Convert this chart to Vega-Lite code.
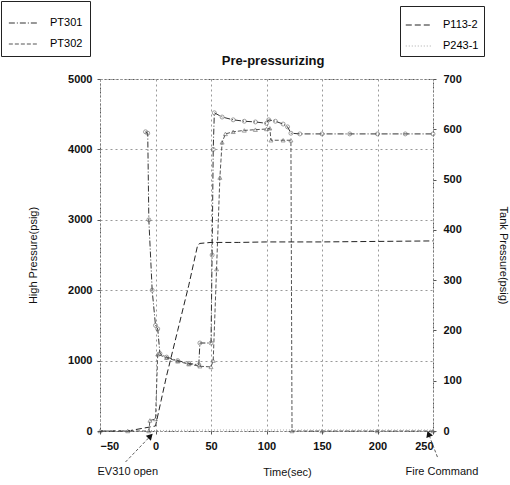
{
  "$schema": "https://vega.github.io/schema/vega-lite/v6.json",
  "width": 333,
  "height": 352,
  "autosize": "none",
  "padding": {"left": 100, "top": 79, "right": 77, "bottom": 54},
  "background": "white",
  "config": {
    "font": "Liberation Sans",
    "view": {"stroke": "#555", "strokeDash": [2, 2], "strokeWidth": 1},
    "axis": {
      "labelFont": "Liberation Sans", "labelFontSize": 11, "labelFontWeight": "bold", "labelColor": "#111",
      "titleFont": "Liberation Sans", "titleFontSize": 11, "titleFontWeight": "normal", "titleColor": "#111",
      "grid": true, "gridColor": "#999", "gridDash": [2, 3], "gridWidth": 1,
      "domain": false, "tickColor": "#555", "tickSize": 3, "format": "d"
    }
  },
  "datasets": {
    "high": [
      {"t": -9, "v": 4250, "s": "PT301"}, {"t": -7, "v": 4230, "s": "PT301"}, {"t": -6, "v": 3000, "s": "PT301"},
      {"t": -3, "v": 2000, "s": "PT301"}, {"t": 0, "v": 1500, "s": "PT301"}, {"t": 2, "v": 1450, "s": "PT301"},
      {"t": 4, "v": 1100, "s": "PT301"}, {"t": 10, "v": 1050, "s": "PT301"}, {"t": 20, "v": 1000, "s": "PT301"},
      {"t": 30, "v": 960, "s": "PT301"}, {"t": 39, "v": 940, "s": "PT301"}, {"t": 40, "v": 1250, "s": "PT301"},
      {"t": 50, "v": 1250, "s": "PT301"}, {"t": 51, "v": 2500, "s": "PT301"}, {"t": 52, "v": 4000, "s": "PT301"},
      {"t": 53, "v": 4520, "s": "PT301"}, {"t": 60, "v": 4460, "s": "PT301"}, {"t": 70, "v": 4420, "s": "PT301"},
      {"t": 80, "v": 4400, "s": "PT301"}, {"t": 90, "v": 4390, "s": "PT301"}, {"t": 100, "v": 4370, "s": "PT301"},
      {"t": 102, "v": 4420, "s": "PT301"}, {"t": 108, "v": 4400, "s": "PT301"}, {"t": 115, "v": 4360, "s": "PT301"},
      {"t": 119, "v": 4320, "s": "PT301"}, {"t": 122, "v": 4230, "s": "PT301"}, {"t": 130, "v": 4220, "s": "PT301"},
      {"t": 150, "v": 4220, "s": "PT301"}, {"t": 175, "v": 4220, "s": "PT301"}, {"t": 200, "v": 4220, "s": "PT301"},
      {"t": 225, "v": 4220, "s": "PT301"}, {"t": 250, "v": 4220, "s": "PT301"},
      {"t": -50, "v": 0, "s": "PT302"}, {"t": -25, "v": 0, "s": "PT302"}, {"t": -6, "v": 0, "s": "PT302"},
      {"t": -5, "v": 150, "s": "PT302"}, {"t": 0, "v": 170, "s": "PT302"}, {"t": 2, "v": 1090, "s": "PT302"},
      {"t": 10, "v": 1040, "s": "PT302"}, {"t": 20, "v": 990, "s": "PT302"}, {"t": 30, "v": 950, "s": "PT302"},
      {"t": 40, "v": 920, "s": "PT302"}, {"t": 50, "v": 910, "s": "PT302"}, {"t": 52, "v": 1000, "s": "PT302"},
      {"t": 55, "v": 2300, "s": "PT302"}, {"t": 58, "v": 3600, "s": "PT302"}, {"t": 60, "v": 4100, "s": "PT302"},
      {"t": 63, "v": 4220, "s": "PT302"}, {"t": 70, "v": 4250, "s": "PT302"}, {"t": 80, "v": 4270, "s": "PT302"},
      {"t": 90, "v": 4280, "s": "PT302"}, {"t": 100, "v": 4290, "s": "PT302"}, {"t": 103, "v": 4300, "s": "PT302"},
      {"t": 104, "v": 4130, "s": "PT302"}, {"t": 115, "v": 4130, "s": "PT302"}, {"t": 122, "v": 4130, "s": "PT302"},
      {"t": 123, "v": 0, "s": "PT302"}, {"t": 150, "v": 0, "s": "PT302"}, {"t": 200, "v": 0, "s": "PT302"},
      {"t": 250, "v": 0, "s": "PT302"}
    ],
    "tank": [
      {"t": -50, "v": 0, "s": "P113-2"}, {"t": -25, "v": 0, "s": "P113-2"}, {"t": 0, "v": 10, "s": "P113-2"},
      {"t": 5, "v": 60, "s": "P113-2"}, {"t": 10, "v": 110, "s": "P113-2"}, {"t": 20, "v": 200, "s": "P113-2"},
      {"t": 30, "v": 290, "s": "P113-2"}, {"t": 38, "v": 370, "s": "P113-2"}, {"t": 40, "v": 373, "s": "P113-2"},
      {"t": 50, "v": 375, "s": "P113-2"}, {"t": 75, "v": 375, "s": "P113-2"}, {"t": 100, "v": 376, "s": "P113-2"},
      {"t": 150, "v": 376, "s": "P113-2"}, {"t": 200, "v": 377, "s": "P113-2"}, {"t": 250, "v": 378, "s": "P113-2"},
      {"t": -50, "v": 1, "s": "P243-1"}, {"t": 0, "v": 1, "s": "P243-1"}, {"t": 50, "v": 2, "s": "P243-1"},
      {"t": 100, "v": 2, "s": "P243-1"}, {"t": 150, "v": 2, "s": "P243-1"}, {"t": 200, "v": 2, "s": "P243-1"},
      {"t": 250, "v": 2, "s": "P243-1"}
    ],
    "notes": [
      {"t": -25, "v": -585, "label": "EV310 open"},
      {"t": 258, "v": -585, "label": "Fire Command"}
    ],
    "heading": [
      {"t": 106, "v": 5250, "label": "Pre-pressurizing"}
    ],
    "arrows": [
      {"t": -27, "v": -440, "t2": -4.5, "v2": -71, "ang": 45},
      {"t": 254, "v": -370, "t2": 246, "v2": -40, "ang": -21}
    ]
  },
  "layer": [
    {
      "data": {"name": "high"},
      "encoding": {
        "x": {"field": "t", "type": "quantitative", "scale": {"domain": [-50, 250], "nice": false},
              "axis": {"values": [-50, 0, 50, 100, 150, 200, 250], "title": "Time(sec)", "labelPadding": 6, "titleX": 187, "titleY": 41, "titleBaseline": "middle"}},
        "y": {"field": "v", "type": "quantitative", "scale": {"domain": [0, 5000], "nice": false},
              "axis": {"orient": "left", "values": [0, 1000, 2000, 3000, 4000, 5000], "title": "High Pressure(psig)", "labelPadding": 5, "titleX": -62}}
      },
      "layer": [
        {
          "mark": {"type": "line", "strokeWidth": 1},
          "encoding": {
            "color": {"field": "s", "type": "nominal", "scale": {"domain": ["PT301", "PT302"], "range": ["#333333", "#555555"]},
                      "legend": {"orient": "none", "legendX": -99, "legendY": -78, "title": null, "strokeColor": "#222", "fillColor": "white",
                                 "padding": 7, "symbolType": "stroke", "symbolSize": 800, "symbolStrokeWidth": 1, "labelFontSize": 11,
                                 "labelFont": "Liberation Sans", "rowPadding": 1, "labelOffset": 12}},
            "strokeDash": {"field": "s", "type": "nominal", "scale": {"domain": ["PT301", "PT302"], "range": [[6, 2, 1, 2], [4, 2]]}}
          }
        },
        {
          "transform": [{"filter": "datum.s === 'PT301'"}],
          "mark": {"type": "point", "shape": "circle", "filled": false, "size": 16, "strokeWidth": 0.8, "color": "#555"}
        },
        {
          "transform": [{"filter": "datum.s === 'PT302'"}],
          "mark": {"type": "point", "shape": "triangle-up", "filled": false, "size": 16, "strokeWidth": 0.8, "color": "#555"}
        }
      ]
    },
    {
      "data": {"name": "tank"},
      "mark": {"type": "line", "strokeWidth": 1},
      "encoding": {
        "x": {"field": "t", "type": "quantitative", "scale": {"domain": [-50, 250], "nice": false}},
        "y": {"field": "v", "type": "quantitative", "scale": {"domain": [0, 700], "nice": false},
              "axis": {"orient": "right", "values": [0, 100, 200, 300, 400, 500, 600, 700], "title": "Tank Pressure(psig)", "grid": false,
                       "labelPadding": 7, "titleAngle": 90, "titleX": 64}},
        "color": {"field": "s", "type": "nominal", "scale": {"domain": ["P113-2", "P243-1"], "range": ["#222222", "#aaaaaa"]},
                  "legend": {"orient": "none", "legendX": 300, "legendY": -73, "title": null, "strokeColor": "#222", "fillColor": "white",
                             "padding": 5, "symbolType": "stroke", "symbolSize": 700, "symbolStrokeWidth": 1, "labelFontSize": 11,
                             "labelFont": "Liberation Sans", "rowPadding": 2, "labelOffset": 10}},
        "strokeDash": {"field": "s", "type": "nominal", "scale": {"domain": ["P113-2", "P243-1"], "range": [[6, 3], [1, 2]]}}
      }
    },
    {
      "data": {"name": "notes"},
      "mark": {"type": "text", "font": "Liberation Sans", "fontSize": 11, "color": "#111", "baseline": "middle", "align": "center"},
      "encoding": {
        "x": {"field": "t", "type": "quantitative", "scale": {"domain": [-50, 250], "nice": false}},
        "y": {"field": "v", "type": "quantitative", "scale": {"domain": [0, 5000], "nice": false}, "axis": null},
        "text": {"field": "label"}
      }
    },
    {
      "data": {"name": "heading"},
      "mark": {"type": "text", "font": "Liberation Sans", "fontSize": 13, "fontWeight": "bold", "color": "#111", "baseline": "middle", "align": "center"},
      "encoding": {
        "x": {"field": "t", "type": "quantitative", "scale": {"domain": [-50, 250], "nice": false}},
        "y": {"field": "v", "type": "quantitative", "scale": {"domain": [0, 5000], "nice": false}, "axis": null},
        "text": {"field": "label"}
      }
    },
    {
      "data": {"name": "arrows"},
      "encoding": {
        "x": {"field": "t", "type": "quantitative", "scale": {"domain": [-50, 250], "nice": false}},
        "y": {"field": "v", "type": "quantitative", "scale": {"domain": [0, 5000], "nice": false}, "axis": null}
      },
      "layer": [
        {
          "mark": {"type": "rule", "strokeWidth": 0.8, "color": "#333", "strokeDash": [3, 2]},
          "encoding": {"x2": {"field": "t2"}, "y2": {"field": "v2"}}
        },
        {
          "mark": {"type": "point", "shape": "triangle-up", "filled": true, "color": "#111", "size": 50, "opacity": 1},
          "encoding": {
            "x": {"field": "t2", "type": "quantitative", "scale": {"domain": [-50, 250], "nice": false}},
            "y": {"field": "v2", "type": "quantitative", "scale": {"domain": [0, 5000], "nice": false}, "axis": null},
            "angle": {"field": "ang", "type": "quantitative", "scale": null}
          }
        }
      ]
    }
  ],
  "resolve": {"scale": {"y": "independent", "color": "independent", "strokeDash": "independent"}}
}
